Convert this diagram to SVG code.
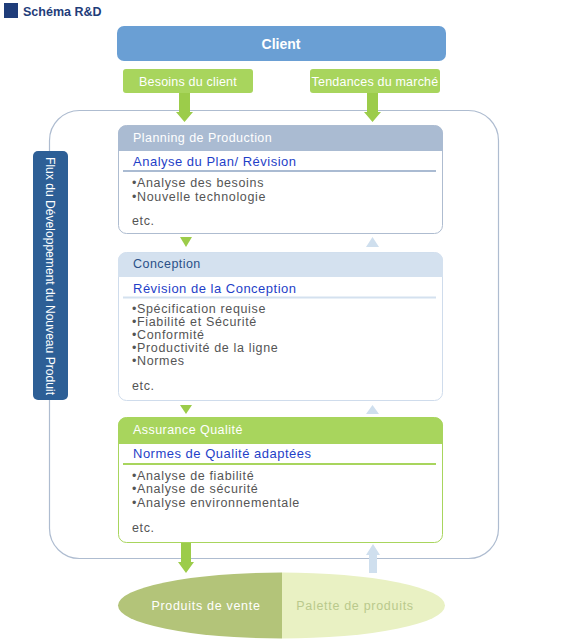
<svg xmlns="http://www.w3.org/2000/svg" width="570" height="639" viewBox="0 0 570 639">
<style>
text{font-family:"Liberation Sans",Arial,sans-serif;}
.hd{font-size:12.5px;letter-spacing:0.45px;}
.sub{font-size:13px;fill:#1f3fc8;letter-spacing:0.5px;}
.bl{font-size:12.5px;fill:#555;letter-spacing:0.65px;}
.tag{font-size:12.5px;fill:#fff;letter-spacing:0.2px;}
</style>
<rect width="570" height="639" fill="#fff"/>
<g id="title">
<rect x="4" y="3" width="14" height="15" fill="#1f3d7a"/>
<text x="23" y="16" font-size="12.5" font-weight="bold" fill="#1f3d7a">Schéma R&amp;D</text>
</g>
<g id="outer">
<rect x="49.5" y="110.5" width="449" height="448" rx="30" fill="none" stroke="#aebcd0" stroke-width="1.2"/>
</g>
<g id="client">
<rect x="117" y="26" width="329" height="35" rx="7" fill="#6a9fd4"/>
<text x="281" y="49" font-size="14" font-weight="bold" fill="#fff" text-anchor="middle">Client</text>
</g>
<g id="besoins">
<rect x="123" y="69" width="130" height="24" rx="3" fill="#a8d55d"/>
<text x="188" y="86" class="tag" text-anchor="middle">Besoins du client</text>
</g>
<g id="tendances">
<rect x="310" y="69" width="130" height="24" rx="3" fill="#a8d55d"/>
<text x="375" y="86" class="tag" text-anchor="middle">Tendances du marché</text>
</g>
<g id="connectors">
<path d="M179 93 H190 V112 H193 L184.5 122 L176 112 H179 Z" fill="#9ccc4a"/>
<path d="M367 93 H378 V112 H381 L372.5 122 L364 112 H367 Z" fill="#9ccc4a"/>
<path d="M180 237 H192 L186 247 Z" fill="#9ccc4a"/>
<path d="M366 247 H379 L372.5 237 Z" fill="#cfdfee"/>
<path d="M180 405 H192 L186 414 Z" fill="#9ccc4a"/>
<path d="M366 414 H379 L372.5 405 Z" fill="#cfdfee"/>
<path d="M181 543 H191 V562 H194 L186 573 L178 562 H181 Z" fill="#9ccc4a"/>
<path d="M369 573 H377 V555 H380 L373 544 L366 555 H369 Z" fill="#cfdfee"/>
</g>
<g id="planning">
<rect x="118.5" y="125.5" width="324" height="108" rx="8" fill="#fff" stroke="#aebcd0"/>
<path d="M118 151 V133.5 a8 8 0 0 1 8 -8 H435 a8 8 0 0 1 8 8 V151 Z" fill="#aabbd2"/>
<text x="133" y="142" class="hd" fill="#fff">Planning de Production</text>
<text x="133" y="166" class="sub">Analyse du Plan/ Révision</text>
<line x1="123" y1="171" x2="436" y2="171" stroke="#aabbd2" stroke-width="2"/>
<text x="132" y="187" class="bl">•Analyse des besoins</text>
<text x="132" y="201" class="bl">•Nouvelle technologie</text>
<text x="132" y="225" class="bl">etc.</text>
</g>
<g id="conception">
<rect x="118.5" y="252.5" width="324" height="148" rx="8" fill="#fff" stroke="#cfdcec"/>
<path d="M118 277 V260.5 a8 8 0 0 1 8 -8 H435 a8 8 0 0 1 8 8 V277 Z" fill="#d4e1ef"/>
<text x="133" y="268" class="hd" fill="#2a5088">Conception</text>
<text x="133" y="293" class="sub">Révision de la Conception</text>
<line x1="123" y1="297.5" x2="436" y2="297.5" stroke="#d4e1ef" stroke-width="2"/>
<text x="132" y="313" class="bl">•Spécification requise</text>
<text x="132" y="326" class="bl">•Fiabilité et Sécurité</text>
<text x="132" y="339" class="bl">•Conformité</text>
<text x="132" y="352" class="bl">•Productivité de la ligne</text>
<text x="132" y="365" class="bl">•Normes</text>
<text x="132" y="390" class="bl">etc.</text>
</g>
<g id="assurance">
<rect x="118.5" y="417.5" width="324" height="125" rx="8" fill="#fff" stroke="#a8d55d"/>
<path d="M118 444 V425.5 a8 8 0 0 1 8 -8 H435 a8 8 0 0 1 8 8 V444 Z" fill="#a8d55d"/>
<text x="133" y="434" class="hd" fill="#fff">Assurance Qualité</text>
<text x="133" y="458" class="sub">Normes de Qualité adaptées</text>
<line x1="123" y1="464" x2="436" y2="464" stroke="#a8d55d" stroke-width="2"/>
<text x="132" y="480" class="bl">•Analyse de fiabilité</text>
<text x="132" y="493" class="bl">•Analyse de sécurité</text>
<text x="132" y="507" class="bl">•Analyse environnementale</text>
<text x="132" y="532" class="bl">etc.</text>
</g>
<g id="flux">
<rect x="33" y="151" width="35" height="249" rx="5" fill="#2d5f96"/>
<text transform="translate(46 276) rotate(90)" font-size="12" fill="#fff" text-anchor="middle" textLength="238" lengthAdjust="spacingAndGlyphs">Flux du Développement du Nouveau Produit</text>
</g>
<g id="produits">
<defs><clipPath id="cl"><rect x="100" y="560" width="182" height="79"/></clipPath><clipPath id="cr"><rect x="282" y="560" width="200" height="79"/></clipPath></defs>
<ellipse cx="281.5" cy="605.5" rx="163.5" ry="33" fill="#b3c479" clip-path="url(#cl)"/>
<ellipse cx="281.5" cy="605.5" rx="163.5" ry="33" fill="#e9f1c3" clip-path="url(#cr)"/>
<text x="206" y="610" font-size="12.5" fill="#fff" text-anchor="middle" letter-spacing="0.7">Produits de vente</text>
<text x="355" y="610" font-size="12.5" fill="#b9c98c" text-anchor="middle" letter-spacing="0.7">Palette de produits</text>
</g>
</svg>
